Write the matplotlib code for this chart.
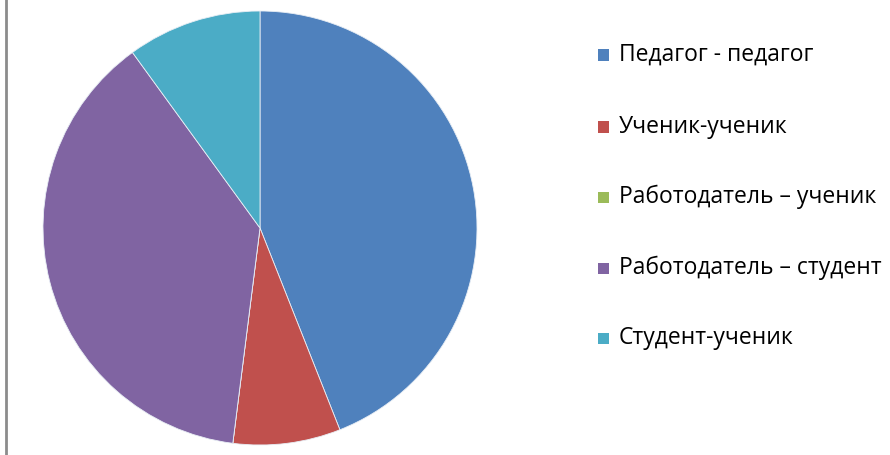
import matplotlib.pyplot as plt
from matplotlib.patches import Rectangle
from matplotlib.lines import Line2D

labels = ["Педагог - педагог", "Ученик-ученик", "Работодатель – ученик",
          "Работодатель – студент", "Студент-ученик"]
values = [44, 8, 0, 38, 10]
colors = ["#4F81BD", "#C0504D", "#9BBB59", "#8064A2", "#4BACC6"]

W, H = 890, 455
fig = plt.figure(figsize=(W / 100, H / 100), dpi=100)

# pie centre ~ (260, 228) px, radius ~217 px
cx, cy, r = 260, 228, 217
ax = fig.add_axes([(cx - r) / W, (H - cy - r) / H, 2 * r / W, 2 * r / H])
ax.pie(values, colors=colors, startangle=90, counterclock=False,
       wedgeprops=dict(edgecolor="#e8eef5", linewidth=0.6))
ax.set_xlim(-1, 1)
ax.set_ylim(-1, 1)
ax.set_aspect("equal")
ax.axis("off")

# left border of chart area
fig.add_artist(Line2D([6 / W, 6 / W], [0, 1], transform=fig.transFigure,
                      color="#8c8c8c", linewidth=2))

# legend
ys = [55, 127, 197, 268, 338]
for lab, col, y in zip(labels, colors, ys):
    fig.add_artist(Rectangle((598 / W, (H - y - 5.5) / H), 11 / W, 11 / H,
                             transform=fig.transFigure, facecolor=col,
                             edgecolor="none"))
    fig.text(619 / W, (H - y) / H, lab, fontsize=16.5, family="Open Sans",
             va="center", ha="left", color="#000000")

fig.savefig("out.png", dpi=100)
